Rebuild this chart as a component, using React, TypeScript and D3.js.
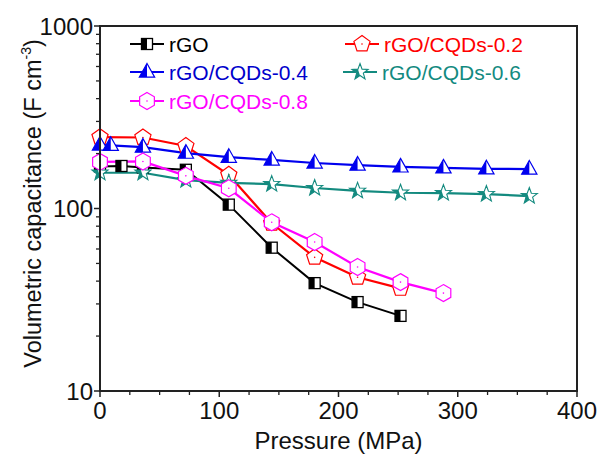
import React from "react";
import * as d3 from "d3";

const xGO = [0, 18, 36, 72, 108, 144, 180, 216, 252];
const yGO = [170, 171, 168, 163, 105, 61, 39, 30.7, 25.8];
const x02 = [0, 36, 72, 108, 144, 180, 216, 252];
const y02 = [246, 245, 220, 153, 83, 54, 42, 36.5];
const x04 = [0, 9, 36, 72, 108, 144, 180, 216, 252, 288, 324, 360];
const y04 = [223, 222, 217, 201, 191, 184.5, 177.6, 173, 169, 167, 165, 164.5];
const x06 = [0, 36, 72, 108, 144, 180, 216, 252, 288, 324, 360];
const y06 = [157, 157, 143, 138, 136, 129.5, 125, 122, 121.5, 120, 117];
const x08 = [0, 36, 72, 108, 144, 180, 216, 252, 288];
const y08 = [180, 181, 151, 129, 84, 65.5, 47.8, 39.5, 34.4];

const xTicks = [0, 100, 200, 300, 400];
const yTicks = [10, 100, 1000];

const names = ["rGO", "rGO/CQDs-0.2", "rGO/CQDs-0.4", "rGO/CQDs-0.6", "rGO/CQDs-0.8"];

const W = 610, H = 459;
const L = 100, R = 577, T = 26, B = 391;

const xs = d3.scaleLinear().domain([0, 400]).range([L, R]);
const ys = d3.scaleLog().domain([10, 1000]).range([B, T]);

const FONT = "Liberation Sans, Arial, sans-serif";

function Marker({ type, color, x, y }: { type: string; color: string; x: number; y: number }) {
  if (type === "square") {
    const s = 5.5;
    return (
      <g>
        <rect x={x - s} y={y - s} width={2 * s} height={2 * s} fill="white" stroke={color} strokeWidth={1.3} />
        <rect x={x - s} y={y - s} width={s} height={2 * s} fill={color} />
      </g>
    );
  }
  if (type === "triangle") {
    const s = 8.5;
    const pts = [[x, y - s], [x + s * 0.9, y + s * 0.6], [x - s * 0.9, y + s * 0.6]];
    return (
      <g>
        <polygon points={pts.map((p) => p.join(",")).join(" ")} fill="white" stroke={color} strokeWidth={1.2} />
        <polygon points={`${x},${y - s} ${x},${y + s * 0.6} ${x - s * 0.9},${y + s * 0.6}`} fill={color} />
      </g>
    );
  }
  if (type === "pentagon") {
    const r = 8.5;
    const pts = d3.range(5).map((i) => {
      const a = -Math.PI / 2 + (i * 2 * Math.PI) / 5;
      return [x + r * Math.cos(a), y + r * Math.sin(a)];
    });
    return (
      <g>
        <polygon points={pts.map((p) => p.join(",")).join(" ")} fill="white" stroke={color} strokeWidth={1.2} />
        <circle cx={x} cy={y} r={0.8} fill={color} />
      </g>
    );
  }
  if (type === "hexagon") {
    const r = 8.5;
    const pts = d3.range(6).map((i) => {
      const a = -Math.PI / 2 + (i * 2 * Math.PI) / 6;
      return [x + r * Math.cos(a), y + r * Math.sin(a)];
    });
    return (
      <g>
        <polygon points={pts.map((p) => p.join(",")).join(" ")} fill="white" stroke={color} strokeWidth={1.2} />
        <circle cx={x} cy={y} r={0.8} fill={color} />
      </g>
    );
  }
  // star
  const ro = 8.5, ri = 3.5;
  const pts = d3.range(10).map((i) => {
    const a = -Math.PI / 2 + (i * Math.PI) / 5;
    const r = i % 2 === 0 ? ro : ri;
    return [x + r * Math.cos(a), y + r * Math.sin(a)];
  });
  const leftPts = pts.filter((p) => p[0] <= x + 0.01);
  return (
    <g>
      <polygon points={pts.map((p) => p.join(",")).join(" ")} fill="white" stroke={color} strokeWidth={1.1} />
      <polygon points={[[x, y - ro], ...leftPts.filter((p) => !(p[0] === x && p[1] === y - ro)), [x, y + ri]].map((p) => p.join(",")).join(" ")} fill={color} />
    </g>
  );
}

const series = [
  { x: xGO, y: yGO, color: "#000000", type: "square", sw: 2 },
  { x: x02, y: y02, color: "#ff0000", type: "pentagon", sw: 2.2 },
  { x: x04, y: y04, color: "#0000ee", type: "triangle", sw: 2.2 },
  { x: x06, y: y06, color: "#138a7f", type: "star", sw: 2.2 },
  { x: x08, y: y08, color: "#ff00ff", type: "hexagon", sw: 2.2 },
];

const textColors = ["#000000", "#ff0000", "#0000cc", "#138a7f", "#ff00ff"];

export default function App() {
  const line = d3.line<[number, number]>().x((d) => xs(d[0])).y((d) => ys(d[1]));
  const minorY: number[] = [];
  for (const dec of [10, 100]) for (let k = 2; k <= 9; k++) minorY.push(dec * k);
  const minorX = d3.range(0, 401, 25).filter((v) => v % 100 !== 0);

  const legendPos = [
    { x: 130, y: 44 },
    { x: 345, y: 44 },
    { x: 130, y: 72 },
    { x: 343, y: 72 },
    { x: 130, y: 101 },
  ];

  return (
    <svg width={W} height={H} style={{ position: "absolute", left: 0, top: 0 }} fontFamily={FONT}>
      <rect x={0} y={0} width={W} height={H} fill="white" />
      {series.map((s, i) => (
        <path key={"l" + i} d={line(s.x.map((v, j) => [v, s.y[j]] as [number, number])) || ""} fill="none" stroke={s.color} strokeWidth={s.sw} />
      ))}
      {series.map((s, i) => (
        <g key={"m" + i}>
          {s.x.map((v, j) => (
            <Marker key={j} type={s.type} color={s.color} x={xs(v)} y={ys(s.y[j])} />
          ))}
        </g>
      ))}
      {/* frame */}
      <rect x={L} y={T} width={R - L} height={B - T} fill="none" stroke="#222" strokeWidth={2} />
      {/* y ticks */}
      {yTicks.map((v) => (
        <g key={"yt" + v}>
          <line x1={L - 6} x2={L} y1={ys(v)} y2={ys(v)} stroke="#222" strokeWidth={1.5} />
          <text x={L - 7} y={ys(v)} dy="0.36em" textAnchor="end" fontSize={24} fill="#111">{v}</text>
        </g>
      ))}
      {minorY.map((v) => (
        <line key={"ym" + v} x1={L - 4} x2={L} y1={ys(v)} y2={ys(v)} stroke="#222" strokeWidth={1.3} />
      ))}
      {/* x ticks */}
      {xTicks.map((v) => (
        <g key={"xt" + v}>
          <line x1={xs(v)} x2={xs(v)} y1={B} y2={B + 6} stroke="#222" strokeWidth={1.5} />
          <text x={xs(v)} y={B + 28} textAnchor="middle" fontSize={24} fill="#111">{v}</text>
        </g>
      ))}
      {minorX.map((v) => (
        <line key={"xm" + v} x1={xs(v)} x2={xs(v)} y1={B} y2={B + 4} stroke="#222" strokeWidth={1.3} />
      ))}
      <text x={(L + R) / 2} y={449} textAnchor="middle" fontSize={24} fill="#111">Pressure (MPa)</text>
      <text transform={`translate(41, ${(T + B) / 2 - 5}) rotate(-90)`} textAnchor="middle" fontSize={23.5} fill="#111">
        Volumetric capacitance (F cm<tspan dy={-10} fontSize={14}>-3</tspan><tspan dy={10}>)</tspan>
      </text>
      {/* legend */}
      {series.map((s, i) => {
        const p = legendPos[i];
        return (
          <g key={"lg" + i}>
            <line x1={p.x} x2={p.x + 34} y1={p.y} y2={p.y} stroke={s.color} strokeWidth={s.sw} />
            <Marker type={s.type} color={s.color} x={p.x + 17} y={p.y} />
            <text x={p.x + 39} y={p.y} dy="0.36em" fontSize={21} fill={textColors[i]}>{names[i]}</text>
          </g>
        );
      })}
    </svg>
  );
}
